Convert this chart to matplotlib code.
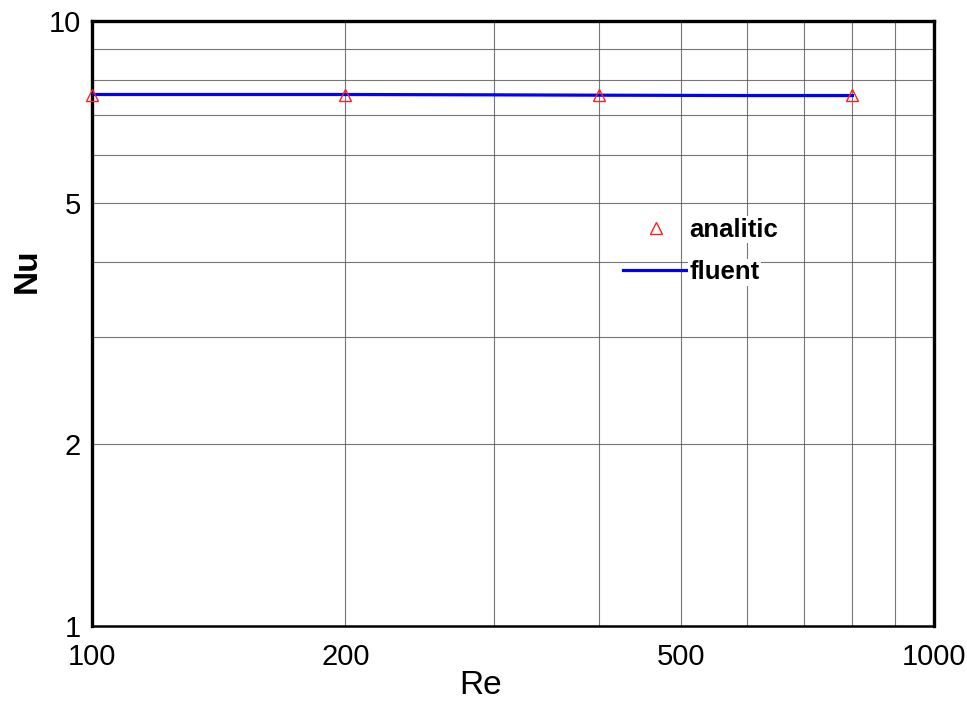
import matplotlib.pyplot as plt
from matplotlib.ticker import FixedLocator, NullFormatter

plt.rcParams['font.family'] = ['Liberation Sans', 'DejaVu Sans']

# analytic Nusselt number (constant wall temperature) and CFD result
re_analitic = [100, 200, 400, 800]
nu_analitic = [7.54, 7.54, 7.54, 7.54]

re_fluent = [100, 200, 300, 400, 600, 800]
nu_fluent = [7.56, 7.56, 7.55, 7.54, 7.53, 7.53]

x_ticks = [100, 200, 500, 1000]
y_ticks = [1, 2, 5, 10]

fig = plt.figure(figsize=(9.67, 7.04), dpi=100)
ax = fig.add_axes([92 / 967, 78 / 704, 842 / 967, 605 / 704])

ax.plot(re_fluent, nu_fluent, color='#0000ff', lw=2.3, label='fluent', zorder=3)
ax.plot(re_analitic, nu_analitic, linestyle='none', marker='^', ms=8,
        mfc='none', mec='#ff2020', mew=1.0, label='analitic', zorder=4, clip_on=False)

ax.set_xscale('log')
ax.set_yscale('log')
ax.set_xlim(100, 1000)
ax.set_ylim(1, 10)

ax.xaxis.set_major_locator(FixedLocator(x_ticks))
ax.xaxis.set_minor_locator(FixedLocator([300, 400, 600, 700, 800, 900]))
ax.yaxis.set_major_locator(FixedLocator(y_ticks))
ax.yaxis.set_minor_locator(FixedLocator([3, 4, 6, 7, 8, 9]))
ax.set_xticklabels([str(v) for v in x_ticks])
ax.set_yticklabels([str(v) for v in y_ticks])
ax.xaxis.set_minor_formatter(NullFormatter())
ax.yaxis.set_minor_formatter(NullFormatter())
ax.tick_params(which='both', length=0, labelsize=21)
ax.tick_params(axis='x', pad=12)
ax.tick_params(axis='y', pad=8)

ax.grid(which='both', color='#555555', lw=0.8, alpha=0.8)
ax.set_axisbelow(True)

for side in ['left', 'right', 'top']:
    ax.spines[side].set_linewidth(2.4)
ax.spines['bottom'].set_linewidth(1.8)

ax.set_xlabel('Re', fontsize=24, va='center')
ax.xaxis.set_label_coords(0.462, -0.099)
ax.set_ylabel('Nu', fontsize=24, fontweight='bold', va='center')
ax.yaxis.set_label_coords(-0.077, 0.588)

handles, labels = ax.get_legend_handles_labels()
leg = ax.legend(handles[::-1], labels[::-1], loc='upper left',
                bbox_to_anchor=(0.603, 0.713), frameon=False,
                prop={'weight': 'bold', 'size': 18.5}, handlelength=2.6,
                handletextpad=0.0, labelspacing=0.72)
for t in leg.get_texts():
    t.set_bbox(dict(facecolor='white', edgecolor='none', pad=1))

fig.savefig('out.png', dpi=100)
